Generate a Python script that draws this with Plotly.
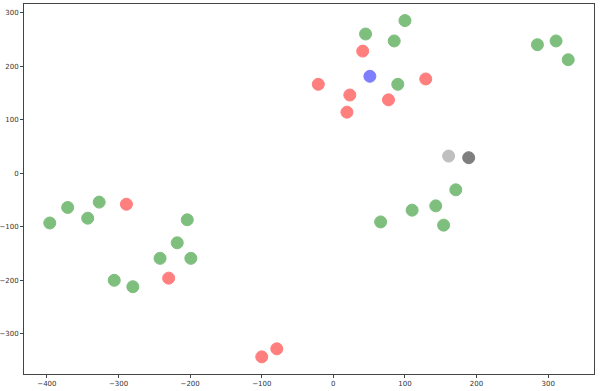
import plotly.graph_objects as go

green_x = [-396, -371, -343, -327, -306, -280, -242, -218, -204, -199,
           66, 110, 143, 154, 171, 45, 85, 90, 100, 285, 311, 328]
green_y = [-93, -64, -84, -54, -200, -212, -159, -130, -87, -159,
           -91, -69, -61, -97, -31, 260, 247, 166, 285, 240, 247, 212]
red_x = [-289, -230, -100, -79, 41, -21, 23, 19, 77, 129]
red_y = [-58, -196, -343, -328, 228, 166, 146, 114, 137, 176]
blue_x = [51]
blue_y = [181]
lightgray_x = [161]
lightgray_y = [32]
darkgray_x = [189]
darkgray_y = [29]

fig = go.Figure()

def add(xs, ys, color):
    fig.add_trace(go.Scatter(x=xs, y=ys, mode="markers",
                             marker=dict(size=12, color=color, opacity=0.5,
                                         line=dict(width=1, color=color)),
                             showlegend=False))

add(green_x, green_y, "#008000")
add(red_x, red_y, "#ff0000")
add(blue_x, blue_y, "#0000ff")
add(lightgray_x, lightgray_y, "#808080")
add(darkgray_x, darkgray_y, "#000000")

axis_common = dict(showline=True, linecolor="#444444", linewidth=1, mirror=True,
                   ticks="outside", ticklen=3, tickcolor="#444444", tickwidth=1,
                   showgrid=False, zeroline=False, dtick=100, automargin=False,
                   tickfont=dict(family="DejaVu Sans", size=7, color="#333333"))

fig.update_layout(
    width=600, height=391,
    margin=dict(l=24, r=6, t=4, b=17, pad=0),
    plot_bgcolor="white", paper_bgcolor="white",
    xaxis=dict(range=[-432, 364], **axis_common),
    yaxis=dict(range=[-375, 316], **axis_common),
)

fig.write_html("out.html", config={"displayModeBar": False},
               post_script="document.body.style.margin='0';")
